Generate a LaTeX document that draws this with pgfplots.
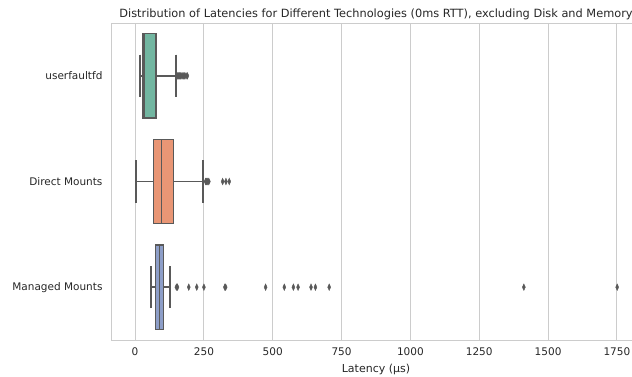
\documentclass[border=0pt]{standalone}
\usepackage{pgfplots}
\pgfplotsset{compat=1.18}
\usepgfplotslibrary{statistics}
\usepackage{fontspec}
\setmainfont{DejaVu Sans}
\definecolor{cgreen}{HTML}{72B6A1}
\definecolor{corange}{HTML}{E99675}
\definecolor{cblue}{HTML}{8D9EC8}
\definecolor{cline}{HTML}{595959}
\definecolor{cgrid}{HTML}{CCCCCC}
\definecolor{ctext}{HTML}{262626}
\pgfplotsset{
  mybox/.style={
    draw=cline, line width=1.4pt,
    boxplot/every whisker/.style={line width=1.9pt, draw=cline, solid},
    boxplot/every median/.style={line width=1.4pt, draw=cline},
    boxplot/every box/.style={line width=1.4pt, draw=cline},
  },
}
\begin{document}
\begin{tikzpicture}
\begin{axis}[
  name=ax,
  at={(0,0)}, anchor=south west,
  scale only axis,
  width=530pt, height=317pt,
  xmin=-87.5, xmax=1837.5,
  ymin=-0.5, ymax=2.5,
  y dir=reverse,
  ytick={0,1,2},
  yticklabels={userfaultfd,Direct Mounts,Managed Mounts},
  xtick={0,250,500,750,1000,1250,1500,1750},
  /pgf/number format/assume math mode=true,
  /pgf/number format/1000 sep={},
  major tick length=0pt,
  xmajorgrids,
  grid style={cgrid, line width=0.9pt},
  axis line style={cgrid, line width=0.9pt},
  tick label style={font=\fontsize{10.5}{12}\selectfont, text=ctext},
  yticklabel style={xshift=-5pt},
  xticklabel style={yshift=-4pt},
  xlabel={Latency (µs)},
  xlabel style={font=\fontsize{11}{13}\selectfont, text=ctext, yshift=-2pt},
  title={Distribution of Latencies for Different Technologies (0ms RTT), excluding Disk and Memory},
  title style={font=\fontsize{11.35}{13}\selectfont, text=ctext, yshift=-6pt},
  boxplot/draw direction=x,
  boxplot/box extend=0.8,
  boxplot/whisker extend=0.4,
  clip=false,
]
\addplot[mybox, fill=cgreen, boxplot prepared={draw position=0, lower whisker=18, lower quartile=29, median=33, upper quartile=76, upper whisker=150}] coordinates {};
\addplot[mybox, fill=corange, boxplot prepared={draw position=1, lower whisker=2, lower quartile=66, median=95, upper quartile=140, upper whisker=247}] coordinates {};
\addplot[mybox, fill=cblue, boxplot prepared={draw position=2, lower whisker=57, lower quartile=74, median=88, upper quartile=103, upper whisker=126}] coordinates {};
\addplot[only marks, mark=diamond*, mark size=3.3pt, mark options={fill=cline, draw=cline, xscale=0.6}]
  coordinates {
  (152,0) (155,0) (158,0) (161,0) (164,0) (167,0) (171,0) (175,0) (180,0) (185,0) (190,0)
  (256,1) (259,1) (262,1) (265,1) (268,1) (318,1) (330,1) (342,1)
  (150,2) (154,2) (195,2) (224,2) (250,2) (326,2) (329,2) (474,2) (542,2) (575,2) (592,2) (639,2) (655,2) (705,2) (1412,2) (1751,2)
  };
\end{axis}
\pgfresetboundingbox
\useasboundingbox (-111pt,-36pt) rectangle (521pt,340pt);
\end{tikzpicture}
\end{document}
